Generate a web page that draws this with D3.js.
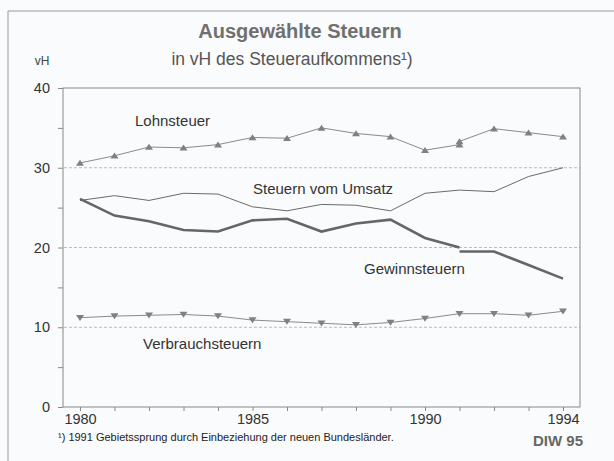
<!DOCTYPE html>
<html>
<head>
<meta charset="utf-8">
<script src="https://cdn.jsdelivr.net/npm/d3@7"></script>
<style>
  body { margin: 0; background: #fafbfc; }
  svg { font-family: "Liberation Sans", Arial, sans-serif; }
</style>
</head>
<body>
<svg id="chart" width="614" height="461"></svg>
<script>
const years = d3.range(1980, 1995)
const yTicks = [0, 10, 20, 30, 40]
const xLabels = [1980, 1985, 1990, 1994]

// values in vH, west until 1991, all Germany from 1991
const lohnWest = [30.6, 31.5, 32.6, 32.5, 32.9, 33.8, 33.7, 35.0, 34.3, 33.9, 32.2, 32.9]
const lohnGesamt = [33.3, 34.9, 34.4, 33.9]
const umsatz = [25.9, 26.5, 25.9, 26.8, 26.7, 25.1, 24.6, 25.4, 25.3, 24.6, 26.8, 27.2, 27.0, 28.9, 30.0]
const gewinnWest = [26.1, 24.0, 23.3, 22.2, 22.0, 23.4, 23.6, 22.0, 23.0, 23.5, 21.2, 20.0]
const gewinnGesamt = [19.5, 19.5, 17.8, 16.1]
const verbrauch = [11.2, 11.4, 11.5, 11.6, 11.4, 10.9, 10.7, 10.5, 10.3, 10.6, 11.1, 11.7, 11.7, 11.5, 12.0]

const svg = d3.select('#chart')
const x = d3.scaleLinear().domain([1980, 1994]).range([80, 563])
const y = d3.scaleLinear().domain([0, 40]).range([407, 88])

// outer frame
svg.append('path').attr('d', 'M8 461 V11 H614')
    .attr('fill', 'none').attr('stroke', '#999').attr('stroke-width', 1)

// titles
svg.append('text').attr('x', 300).attr('y', 38).attr('text-anchor', 'middle')
    .attr('font-size', 20).attr('font-weight', 'bold').attr('fill', '#707070')
    .text('Ausgewählte Steuern')
svg.append('text').attr('x', 292).attr('y', 65).attr('text-anchor', 'middle')
    .attr('font-size', 17.5).attr('fill', '#555')
    .text('in vH des Steueraufkommens¹)')
svg.append('text').attr('x', 42).attr('y', 65).attr('text-anchor', 'middle')
    .attr('font-size', 12).attr('fill', '#444').text('vH')

// grid
svg.append('g').selectAll('line').data([10, 20, 30]).join('line')
    .attr('x1', 64).attr('x2', 580).attr('y1', d => y(d)).attr('y2', d => y(d))
    .attr('stroke', '#bbb').attr('stroke-dasharray', '3,2')

// plot frame
svg.append('rect').attr('x', 63).attr('y', y(40)).attr('width', 580 - 63).attr('height', y(0) - y(40))
    .attr('fill', 'none').attr('stroke', '#888')

// axes
const yAxis = svg.append('g').attr('transform', 'translate(63,0)')
    .call(d3.axisLeft(y).tickValues(d3.range(0, 41, 5)).tickSize(5).tickPadding(8)
        .tickFormat(d => yTicks.includes(d) ? d : ''))
const xAxis = svg.append('g').attr('transform', `translate(0,${y(0)})`)
    .call(d3.axisBottom(x).tickValues(years).tickSize(4).tickPadding(3)
        .tickFormat(d => xLabels.includes(d) ? d : ''))
for (const ax of [yAxis, xAxis]) {
  ax.select('.domain').remove()
  ax.selectAll('line').attr('stroke', '#888')
  ax.selectAll('text').attr('font-size', 14.5).attr('fill', '#333')
      .attr('font-family', '"Liberation Sans", Arial, sans-serif')
}

const line = d3.line().x(d => x(d[0])).y(d => y(d[1]))
const pts = (vals, start) => vals.map((v, i) => [start + i, v])

function drawLine(data, stroke, width) {
  svg.append('path').datum(data).attr('d', line)
      .attr('fill', 'none').attr('stroke', stroke).attr('stroke-width', width)
}
function drawMarkers(data, down) {
  const s = 4
  svg.append('g').selectAll('path').data(data).join('path')
      .attr('d', d => {
        const cx = x(d[0]), cy = y(d[1])
        return down
          ? `M${cx - s} ${cy - s * 0.7} L${cx + s} ${cy - s * 0.7} L${cx} ${cy + s * 0.8} Z`
          : `M${cx - s} ${cy + s * 0.7} L${cx + s} ${cy + s * 0.7} L${cx} ${cy - s * 0.8} Z`
      })
      .attr('fill', '#808080')
}

drawLine(pts(umsatz, 1980), '#6a6a6a', 1)
drawLine(pts(gewinnWest, 1980), '#666', 2.6)
drawLine(pts(gewinnGesamt, 1991), '#666', 2.6)
drawLine(pts(lohnWest, 1980), '#8a8a8a', 1)
drawLine(pts(lohnGesamt, 1991), '#8a8a8a', 1)
drawMarkers(pts(lohnWest, 1980), false)
drawMarkers(pts(lohnGesamt, 1991), false)
drawLine(pts(verbrauch, 1980), '#8a8a8a', 1)
drawMarkers(pts(verbrauch, 1980), true)

// series labels
const labels = [
  ['Lohnsteuer', 135, 126],
  ['Steuern vom Umsatz', 253, 194],
  ['Gewinnsteuern', 364, 274],
  ['Verbrauchsteuern', 143, 349]
]
svg.append('g').selectAll('text').data(labels).join('text')
    .attr('x', d => d[1]).attr('y', d => d[2])
    .attr('font-size', 15).attr('fill', '#333').text(d => d[0])

// footnote and source
svg.append('text').attr('x', 58).attr('y', 441).attr('font-size', 11).attr('fill', '#222')
    .text('¹) 1991 Gebietssprung durch Einbeziehung der neuen Bundesländer.')
svg.append('text').attr('x', 583).attr('y', 446).attr('text-anchor', 'end')
    .attr('font-size', 15).attr('font-weight', 'bold').attr('fill', '#666').text('DIW 95')
</script>
</body>
</html>
